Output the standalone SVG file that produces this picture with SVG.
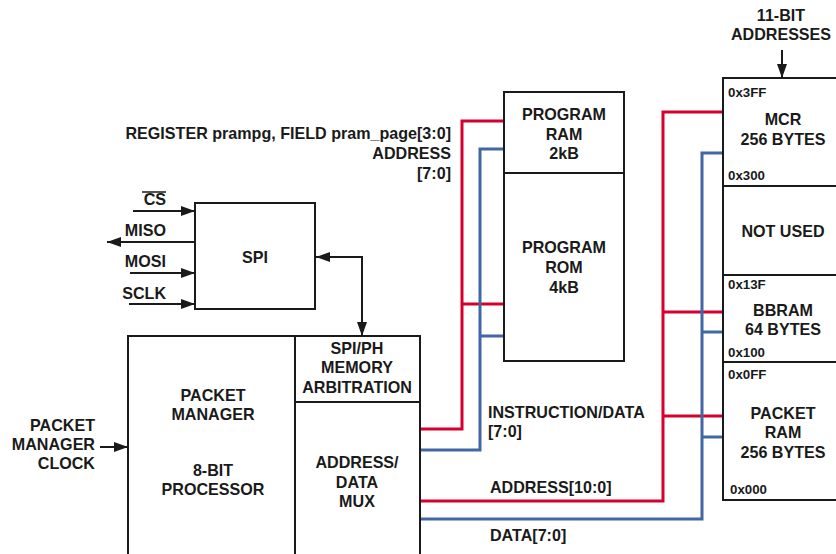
<svg xmlns="http://www.w3.org/2000/svg" width="836" height="554" viewBox="0 0 836 554">
<defs>
<style>
text{font-family:"Liberation Sans",Arial,sans-serif;font-weight:bold;fill:#1a1a1a;font-size:16.1px}
.c{text-anchor:middle}
.r{text-anchor:end}
.h{font-size:13.3px}
.box{fill:#fff;stroke:#1a1a1a;stroke-width:2}
.blk{fill:none;stroke:#1a1a1a;stroke-width:2}
.red{fill:none;stroke:#d5002f;stroke-width:3}
.blue{fill:none;stroke:#4267a3;stroke-width:3}
</style>
<marker id="ah" viewBox="0 0 14 10" refX="14" refY="5" markerWidth="14" markerHeight="10" markerUnits="userSpaceOnUse" orient="auto-start-reverse">
<path d="M0,0 L14,5 L0,10 Z" fill="#1a1a1a"/>
</marker>
</defs>
<rect width="836" height="554" fill="#fff"/>

<g id="connectors">
<!-- program memory buses -->
<polyline class="red" points="420,429 462,429 462,121 504,121"/>
<line class="red" x1="462" y1="304" x2="504" y2="304"/>
<polyline class="blue" points="420,450 480,450 480,149 504,149"/>
<line class="blue" x1="480" y1="336" x2="504" y2="336"/>
<!-- data memory buses -->
<polyline class="red" points="420,501 663,501 663,112 723,112"/>
<line class="red" x1="663" y1="312" x2="723" y2="312"/>
<line class="red" x1="663" y1="416" x2="723" y2="416"/>
<polyline class="blue" points="420,519 702,519 702,153 723,153"/>
<line class="blue" x1="702" y1="332" x2="723" y2="332"/>
<line class="blue" x1="702" y1="437" x2="723" y2="437"/>
<!-- SPI signals -->
<line class="blk" x1="133" y1="211" x2="195" y2="211" marker-end="url(#ah)"/>
<line class="blk" x1="195" y1="242" x2="107" y2="242" marker-end="url(#ah)"/>
<line class="blk" x1="130" y1="273" x2="195" y2="273" marker-end="url(#ah)"/>
<line class="blk" x1="129" y1="304" x2="195" y2="304" marker-end="url(#ah)"/>
<polyline class="blk" points="316,257 362,257 362,336" marker-start="url(#ah)" marker-end="url(#ah)"/>
<line class="blk" x1="100" y1="447" x2="128" y2="447" marker-end="url(#ah)"/>
<line class="blk" x1="782" y1="50" x2="782" y2="78" marker-end="url(#ah)"/>
</g>

<g id="spi">
<rect class="box" x="195" y="203" width="120" height="106"/>
<text class="c" x="255" y="263">SPI</text>
</g>

<g id="spi-labels">
<text class="r" x="166" y="205">CS</text>
<line x1="142" y1="192" x2="166" y2="192" stroke="#1a1a1a" stroke-width="1.5"/>
<text class="r" x="166" y="236">MISO</text>
<text class="r" x="166" y="267">MOSI</text>
<text class="r" x="166" y="299">SCLK</text>
</g>

<g id="register-label">
<text class="r" x="451" y="139">REGISTER prampg, FIELD pram_page[3:0]</text>
<text class="r" x="451" y="159">ADDRESS</text>
<text class="r" x="451" y="179">[7:0]</text>
</g>

<g id="program-memory">
<rect class="box" x="504" y="92" width="120" height="269"/>
<line class="blk" x1="504" y1="173" x2="624" y2="173"/>
<text class="c" x="564" y="120">PROGRAM</text>
<text class="c" x="564" y="139.5">RAM</text>
<text class="c" x="564" y="159">2kB</text>
<text class="c" x="564" y="253">PROGRAM</text>
<text class="c" x="564" y="273">ROM</text>
<text class="c" x="564" y="293">4kB</text>
</g>

<g id="packet-manager">
<path class="box" d="M128,560 L128,336 L420,336 L420,560"/>
<line class="blk" x1="295" y1="336" x2="295" y2="560"/>
<line class="blk" x1="295" y1="402" x2="420" y2="402"/>
<text class="c" x="213" y="401">PACKET</text>
<text class="c" x="213" y="420">MANAGER</text>
<text class="c" x="213" y="476">8-BIT</text>
<text class="c" x="213" y="495">PROCESSOR</text>
<text class="c" x="357" y="354">SPI/PH</text>
<text class="c" x="357" y="373">MEMORY</text>
<text class="c" x="357" y="393">ARBITRATION</text>
<text class="c" x="357" y="468">ADDRESS/</text>
<text class="c" x="357" y="488">DATA</text>
<text class="c" x="357" y="507">MUX</text>
</g>

<g id="clock-label">
<text class="r" x="95" y="431">PACKET</text>
<text class="r" x="95" y="450">MANAGER</text>
<text class="r" x="95" y="469">CLOCK</text>
</g>

<g id="bus-labels">
<text x="488" y="418">INSTRUCTION/DATA</text>
<text x="488" y="437">[7:0]</text>
<text x="490" y="493">ADDRESS[10:0]</text>
<text x="490" y="541">DATA[7:0]</text>
</g>

<g id="address-label">
<text class="c" x="781" y="21">11-BIT</text>
<text class="c" x="781" y="40">ADDRESSES</text>
</g>

<g id="data-memory">
<rect class="box" x="723" y="78" width="120" height="422"/>
<line class="blk" x1="723" y1="186" x2="843" y2="186"/>
<line class="blk" x1="723" y1="275" x2="843" y2="275"/>
<line class="blk" x1="723" y1="362" x2="843" y2="362"/>
<text class="h" x="728" y="97">0x3FF</text>
<text class="c" x="783" y="125">MCR</text>
<text class="c" x="783" y="145">256 BYTES</text>
<text class="h" x="728" y="180">0x300</text>
<text class="c" x="783" y="237">NOT USED</text>
<text class="h" x="728" y="289">0x13F</text>
<text class="c" x="783" y="316">BBRAM</text>
<text class="c" x="783" y="335">64 BYTES</text>
<text class="h" x="728" y="357">0x100</text>
<text class="h" x="728" y="379">0x0FF</text>
<text class="c" x="783" y="419">PACKET</text>
<text class="c" x="783" y="438">RAM</text>
<text class="c" x="783" y="458">256 BYTES</text>
<text class="h" x="730" y="494">0x000</text>
</g>
</svg>
